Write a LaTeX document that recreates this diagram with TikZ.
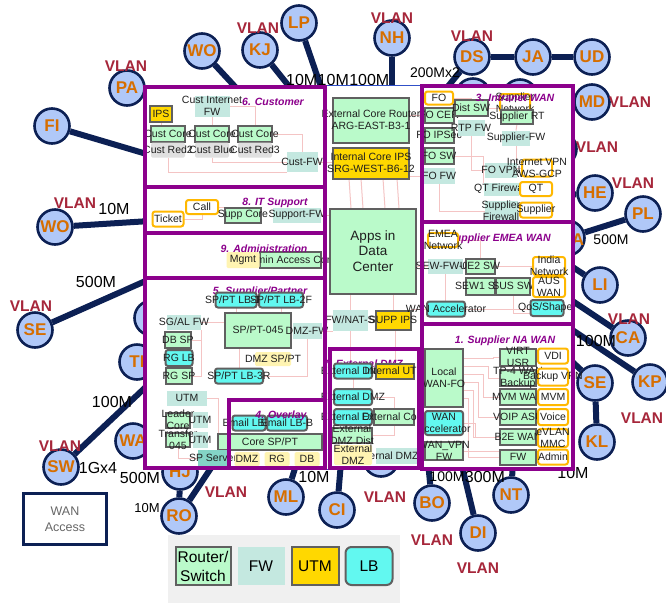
\documentclass[tikz,border=0pt]{standalone}
\usepackage{fontspec}
\setmainfont{Liberation Sans}
\usetikzlibrary{positioning}

\pgfdeclarelayer{back}
\pgfdeclarelayer{wires}
\pgfdeclarelayer{front}
\pgfsetlayers{back,wires,main,front}

\definecolor{navy}{RGB}{12,32,84}
\definecolor{sitefill}{RGB}{176,200,248}
\definecolor{siteorange}{RGB}{214,110,0}
\definecolor{vlanred}{RGB}{166,38,58}
\definecolor{zonepurple}{RGB}{140,0,140}
\definecolor{frameblue}{RGB}{48,80,200}
\definecolor{rtrfill}{RGB}{186,250,202}
\definecolor{rtrline}{RGB}{96,96,96}
\definecolor{fwfill}{RGB}{196,232,224}
\definecolor{serverteal}{RGB}{132,212,198}
\definecolor{utmfill}{RGB}{255,216,0}
\definecolor{lbfill}{RGB}{98,248,240}
\definecolor{extorange}{RGB}{255,184,0}
\definecolor{paleyellow}{RGB}{255,244,178}
\definecolor{greyfill}{RGB}{224,224,224}
\definecolor{wirepink}{RGB}{244,196,196}
\definecolor{legendgrey}{RGB}{240,240,240}

\begin{document}
\begin{tikzpicture}[x=1pt, y=-1pt,
    site/.style={circle, draw=navy, line width=2.6pt, fill=sitefill,
                 minimum size=35pt, inner sep=0pt, text=siteorange,
                 font=\fontsize{17}{17}\selectfont\bfseries},
    link/.style={draw=navy, line width=6pt},
    vlan/.style={inner sep=0pt, text=vlanred, font=\fontsize{15.5}{16}\selectfont\bfseries},
    bw/.style={inner sep=0pt, font=\fontsize{16}{16}\selectfont},
    zone/.style={draw=zonepurple, line width=3.6pt},
    zonelabel/.style={inner sep=0pt, text=zonepurple,
                      font=\fontsize{10.5}{11}\selectfont\bfseries\itshape},
    sz/.style 2 args={minimum width=#1, minimum height=#2},
    devtext/.style={inner sep=0pt, align=center, text=black!88,
                    font=\fontsize{10.5}{12}\selectfont},
    say/.style={append after command={node[devtext] at (\tikzlastnode.center) {#1}}},
    saybig/.style={append after command={node[devtext, font=\fontsize{13.5}{15.5}\selectfont]
                   at (\tikzlastnode.center) {#1}}},
    dev/.style={inner sep=0pt, outer sep=0pt},
    rtr/.style={dev, draw=rtrline, line width=2pt, fill=rtrfill},
    fw/.style={dev, fill=fwfill},
    utm/.style={dev, draw=rtrline, line width=2pt, fill=utmfill},
    lb/.style={dev, draw=rtrline, line width=2pt, fill=lbfill, rounded corners=2.5pt},
    ext/.style={dev, draw=extorange, line width=2pt, fill=white, rounded corners=2.5pt},
    pale/.style={dev, fill=paleyellow, rounded corners=1.5pt},
    greylab/.style={dev, fill=greyfill, rounded corners=1.5pt},
    wire/.style={draw=wirepink, line width=1pt}
  ]
  \useasboundingbox (0,0) rectangle (666,603);

  \begin{pgfonlayer}{back}
    % Sites
    \foreach \n/\x/\y/\lab in {woT/202/51/WO, pa/127/88/PA, fi/52/126/FI,
        kj/260/50/KJ, lp/299/23/LP, nh/392/38/NH, ds/472/57/DS, ja/533/57/JA,
        ud/592/57/UD, md/592/102/MD, he/595/193/HE, pl/643/214/PL,
        li/600/285/LI, ca/628/338/CA, kp/650/382/KP, seR/595/383/SE,
        kl/597/442/KL, nt/511/495/NT, di/478/533/DI, bo/432/503/BO,
        ci/337/510/CI, ml/286/497/ML, ro/179/516/RO, hj/180/472/HJ,
        sw/61/467/SW, wa/133/441/WA, ti/137/362/TI, seL/35/330/SE,
        woL/55/227/WO, hidA/567/238/{}, hidB/473/96/{}, hidC/520/97/{},
        hidD/559/149/{}, hidE/152/318/{}, hidF/381/459/{}}
      \node[site] (\n) at (\x,\y) {\lab};
    \node[inner sep=0pt, text=siteorange, font=\fontsize{17}{17}\selectfont\bfseries]
      (hidAtext) at (578,240) {A};

    % Link ends under the frame
    \foreach \n/\x/\y in {eWOT/240/92, eFI/150/155, eKJ/292/90, eLP/322/90,
        eNH/392/90, eDS/445/90, eHE/565/195, eLI/565/262, eCA/565/296,
        eKP/565/325, eSER/565/355, eNT/513/462, eDI/461/462, eBO/428/462,
        eCI/341/462, eML/297/462, eRO/215/462, eSW/150/383, eSEL/150/279,
        eWOL/150/221}
      \coordinate (\n) at (\x,\y);

    % Links
    \foreach \src/\dst in {woT/eWOT, fi/eFI, kj/eKJ, lp/eLP, nh/eNH, ds/eDS,
        ds/ja, ja/ud, he/eHE, pl/hidA, li/eLI, ca/eCA, kp/eKP, seR/eSER,
        kl/seR, nt/eNT, di/eDI, bo/eBO, ci/eCI, ml/eML, ro/eRO, ro/hj,
        sw/eSW, seL/eSEL, woL/eWOL}
      \draw[link] (\src) -- (\dst);

    % VLAN tags
    \foreach \x/\y [count=\i] in {126/66, 258/28, 392/18, 472/36, 630/102,
        597/147, 633/183, 629/319, 642/418, 478/568, 432/540, 385/497,
        226/492, 60/446, 31/306, 75/203}
      \node[vlan] (vl\i) at (\x,\y) {VLAN};

    % Bandwidths
    \node[bw, anchor=west] (bwA) at (286,80) {10M};
    \node[bw, right=0pt of bwA] (bwB) {10M};
    \node[bw, right=0pt of bwB] (bwC) {100M};
    \node[bw, font=\fontsize{14}{14}\selectfont] (bwD) at (435,73) {200Mx2};
    \node[bw] (bwE) at (114,209) {10M};
    \node[bw] (bwF) at (96,282) {500M};
    \node[bw] (bwG) at (112,402) {100M};
    \node[bw] (bwH) at (98,468) {1Gx4};
    \node[bw] (bwI) at (140,478) {500M};
    \node[bw, font=\fontsize{13}{13}\selectfont] (bwJ) at (147,508) {10M};
    \node[bw] (bwK) at (314,477) {10M};
    \node[bw, font=\fontsize{14}{14}\selectfont] (bwL) at (447,477) {100M};
    \node[bw, right=0pt of bwL] (bwM) {300M};
    \node[bw] (bwN) at (573,473) {10M};
    \node[bw, font=\fontsize{14}{14}\selectfont] (bwO) at (611,240) {500M};
    \node[bw] (bwP) at (596,341) {100M};

    % Frame
    \fill[white] (145,85) rectangle (573,469);
    \draw[frameblue, line width=0.8pt] (145,85) rectangle (573,469);
  \end{pgfonlayer}

  % Zone titles under devices
  \node[zonelabel] (zEMEA) at (493,239) {2. Supplier EMEA WAN};
  \node[zonelabel] (zSupPt) at (260,292) {5. Supplier/Partner};
  \node[zonelabel] (zExtDMZ) at (363,364) {7. External DMZ};

  % 6. Customer
  \node[utm, sz={22}{16}, say=IPS] (ips) at (161,114) {};
  \node[fw, sz={35}{21}, say={Cust Internet\\FW}] (custintfw) at (212,106) {};
  \node[rtr, sz={34}{16}, say={Cust Core}] (custcoreA) at (168,134) {};
  \node[rtr, sz={34}{16}, say={Cust Core}] (custcoreB) at (212,134) {};
  \node[rtr, sz={34}{16}, say={Cust Core}] (custcoreC) at (255,134) {};
  \node[greylab, sz={34}{15}, say={Cust Red2}] (custred2) at (168,150) {};
  \node[greylab, sz={34}{15}, say={Cust Blue}] (custblue) at (212,150) {};
  \node[greylab, sz={34}{15}, say={Cust Red3}] (custred3) at (255,150) {};
  \node[fw, sz={31}{20}, say=Cust-FW] (custfw) at (302,162) {};

  % 8. IT Support
  \node[ext, sz={31}{15}, say=Ticket] (ticket) at (168,219) {};
  \node[ext, sz={32}{14}, say=Call] (call) at (202,207) {};
  \node[rtr, sz={36}{15}, say={Supp Core}] (suppcore) at (243,215) {};
  \node[fw, sz={48}{15}, say=Support-FW] (supportfw) at (297,215) {};

  % 9. Administration
  \node[rtr, sz={61}{16}, say={Admin Access Core}] (admincore) at (290,260) {};
  \node[pale, sz={33}{16}, say=Mgmt] (mgmt) at (243,260) {};

  % 5. Supplier/Partner
  \node[fw, sz={34}{15}, say={SG/AL FW}] (sgalfw) at (184,322) {};
  \node[rtr, sz={26}{16}, say={DB SP}] (dbsp) at (178,340) {};
  \node[lb, sz={27}{16}, say={RG LB}] (rglb) at (179,358) {};
  \node[rtr, sz={26}{16}, say={RG SP}] (rgsp) at (179,376) {};
  \node[rtr, sz={66}{35}, say=SP/PT-045] (sppt045) at (258,330) {};
  \node[lb, sz={41}{15}, say={SP/PT LB-1F}] (lbonef) at (236,300) {};
  \node[lb, sz={44}{15}, say={SP/PT LB-2F}] (lbtwof) at (281,300) {};
  \node[fw, sz={29}{16}, say=DMZ-FW] (dmzfw) at (307,331) {};
  \node[pale, sz={36}{14}, say={DMZ SP/PT}] (dmzsppt) at (273,359) {};
  \node[lb, sz={48}{15}, say={SP/PT LB-3R}] (lbthreer) at (239,376) {};
  \node[fw, sz={40}{15}, say=UTM] (utma) at (187,398) {};
  \node[rtr, sz={24}{15}, say={Leader\\Core}] (leader) at (178,420) {};
  \node[fw, sz={15}{16}, say=UTM] (utmb) at (200,420) {};
  \node[rtr, sz={24}{14}, say={Transfer\\045}] (transfer) at (178,440) {};
  \node[fw, sz={15}{16}, say=UTM] (utmc) at (200,440) {};
  \node[rtr, sz={104}{16}, say={Core SP/PT}] (coresppt) at (270,442) {};
  \node[fw, fill=serverteal, sz={31}{16}, say={SP Server}] (spserver) at (213,458) {};
  \node[lb, sz={33}{15}, say={Email LB-A}] (emaila) at (249,423) {};
  \node[lb, sz={40}{15}, say={Email LB-B}] (emailb) at (287,423) {};
  \node[pale, sz={25}{14}, say=DMZ] (dmzs) at (247,459) {};
  \node[pale, sz={25}{14}, say=RG] (rgs) at (277,459) {};
  \node[pale, sz={25}{14}, say=DB] (dbs) at (307,459) {};

  % Data centre core
  \node[rtr, sz={76}{45}, say={External Core Router\\ARG-EAST-B3-1}] (extcore) at (371,120) {};
  \node[utm, sz={76}{31}, say={Internal Core IPS\\SRG-WEST-B6-12}] (intips) at (371,163) {};
  \node[rtr, sz={86}{85}, saybig={Apps in\\Data\\Center}] (apps) at (373,251) {};
  \node[fw, sz={35}{21}, say=FW/NAT-S] (fwnat) at (350,320) {};
  \node[utm, sz={35}{19}, say={SUPP IPS}] (suppips) at (393,320) {};

  % 7. External DMZ
  \node[lb, sz={38}{15}, say={External DMZ}] (edmza) at (353,371) {};
  \node[utm, sz={38}{15}, say={Internal UTM}] (intutm) at (395,371) {};
  \node[lb, sz={38}{16}, say={External DMZ}] (edmzb) at (353,397) {};
  \node[lb, sz={38}{16}, say={External DMZ}] (edmzc) at (353,417) {};
  \node[rtr, sz={40}{16}, say={External Core}] (extcoredmz) at (394,417) {};
  \node[fw, sz={41}{16}, say={External DMZ FW}] (edmzfw) at (396,456) {};
  \node[rtr, sz={40}{15}, say={External\\DMZ Dist}] (edmzdist) at (352,435) {};
  \node[pale, sz={38}{20}, say={External\\DMZ}] (edmzp) at (353,455) {};

  % 3. Intranet WAN
  \node[ext, sz={28}{13}, say=FO] (fo) at (439,98) {};
  \node[rtr, sz={29}{15}, say={FO CER}] (focer) at (439,115) {};
  \node[rtr, sz={29}{15}, say={FO IPSec}] (foips) at (439,135) {};
  \node[rtr, sz={29}{16}, say={FO SW}] (fosw) at (439,156) {};
  \node[fw, sz={32}{16}, say={FO FW}] (fofw) at (439,176) {};
  \node[rtr, sz={33}{16}, say={Dist SW}] (distsw) at (471,108) {};
  \node[fw, sz={27}{16}, say={RTP FW}] (rtpfw) at (471,128) {};
  \node[ext, sz={30}{18}, say={Supplier\\Network}] (supnet) at (515,103) {};
  \node[rtr, sz={32}{14}, say={Supplier RT}] (suprt) at (517,117) {};
  \node[fw, sz={28}{15}, say=Supplier-FW] (supfw) at (516,138) {};
  \node[fw, sz={32}{15}, say={FO VPN}] (fovpn) at (501,170) {};
  \node[ext, sz={30}{17}, say={Internet VPN\\AWS-GCP}] (aws) at (537,168) {};
  \node[fw, sz={35}{13}, say={QT Firewall}] (qtfw) at (501,189) {};
  \node[ext, sz={32}{14}, say=QT] (qt) at (536,189) {};
  \node[fw, sz={33}{20}, say={Supplier\\Firewall}] (supfirewall) at (501,211) {};
  \node[ext, sz={32}{15}, say=Supplier] (supplier) at (536,210) {};

  % 2. Supplier EMEA WAN
  \node[ext, sz={30}{14}, say={EMEA\\Network}] (emeanet) at (443,240) {};
  \node[fw, sz={35}{15}, say=SEW-FW-02] (sewfw) at (445,266) {};
  \node[rtr, sz={29}{15}, say={UE2 SW}] (uetwo) at (480,266) {};
  \node[rtr, sz={29}{17}, say={SEW1 SW}] (sewone) at (480,286) {};
  \node[rtr, sz={34}{17}, say={SUS SW}] (sussw) at (513,286) {};
  \node[ext, sz={32}{18}, say={India\\Network}] (india) at (549,266) {};
  \node[ext, sz={32}{20}, say={AUS\\WAN}] (auswan) at (549,287) {};
  \node[lb, sz={38}{15}, say={WAN Accelerator}] (wanacce) at (446,309) {};
  \node[lb, sz={33}{16}, say=QoS/Shaper] (qos) at (547,308) {};

  % 1. Supplier NA WAN
  \node[rtr, sz={38}{58}, say={Local\\WAN-FO}] (localwan) at (444,378) {};
  \node[lb, sz={38}{24}, say={WAN\\Accelerator}] (wanaccna) at (444,423) {};
  \node[rtr, sz={38}{18}, say={WAN\_VPN\\FW}] (wanvpn) at (444,451) {};
  \node[rtr, sz={36}{17}, say={VIRT\\USR}] (virt) at (518,357) {};
  \node[rtr, sz={36}{16}, say={TP-4 WAN\\Backup}] (tpfour) at (518,378) {};
  \node[rtr, sz={36}{16}, say={MVM WAN}] (mvmwan) at (518,397) {};
  \node[rtr, sz={36}{16}, say={VOIP ASU}] (voip) at (518,417) {};
  \node[rtr, sz={36}{16}, say={B2E WAN}] (btwoe) at (518,437) {};
  \node[rtr, sz={36}{15}, say=FW] (fwna) at (518,457) {};
  \node[ext, sz={30}{15}, say=VDI] (vdi) at (553,356) {};
  \node[ext, sz={30}{17}, say={Backup VPN}] (backupvpn) at (553,377) {};
  \node[ext, sz={30}{16}, say=MVM] (mvm) at (553,397) {};
  \node[ext, sz={30}{16}, say=Voice] (voice) at (553,417) {};
  \node[ext, sz={30}{18}, say={eVLAN\\MMC}] (evlan) at (553,438) {};
  \node[ext, sz={30}{15}, say=Admin] (adminext) at (553,457) {};

  % Zone titles
  \node[zonelabel] (zCust) at (273,102) {6. Customer};
  \node[zonelabel] (zIT) at (275,203) {8. IT Support};
  \node[zonelabel] (zAdmin) at (264,249) {9. Administration};
  \node[zonelabel] (zOverlay) at (281,416) {4. Overlay};
  \node[zonelabel] (zIntra) at (515,98) {3. Intranet WAN};
  \node[zonelabel] (zNA) at (505,341) {1. Supplier NA WAN};

  \begin{pgfonlayer}{wires}
    % customer
    \draw[wire] (ips) -- (ips |- custcoreA.north);
    \draw[wire] (custintfw) -- (custcoreB);
    \draw[wire] (custintfw.east) -| (custcoreC.north);
    \draw[wire] (custblue.south) |- (custfw.west);
    \draw[wire] (custred2.south) |- (custfw.south west);
    \draw[wire] (custcoreC.east) -| (custfw.north);
    % IT support
    \draw[wire] (ticket.east) -| (call.south);
    \draw[wire] (call.east) -- (call.east -| suppcore.west);
    % supplier/partner
    \draw[wire] (sgalfw.east) -- (sgalfw.east -| sppt045.west);
    \draw[wire] (rgsp.east) -| (sgalfw.south east);
    \draw[wire] (dbsp.east) -- (dbsp.east -| sgalfw.south east);
    \draw[wire] (lbonef.south) -- (lbonef.south |- sppt045.north);
    \draw[wire] (lbtwof.south) -- (lbtwof.south |- sppt045.north);
    \draw[wire] (lbthreer.north) -- (lbthreer.north |- sppt045.south);
    \draw[wire] (dmzfw.south) |- (lbthreer.east);
    \draw[wire] (utma.east) -| (coresppt.north west);
    \draw[wire] (transfer.south) |- (spserver.west);
    \draw[wire] (sppt045.east) -- (dmzfw.west);
    % centre
    \foreach \dx in {-22,-10,12,26}
      \draw[wire] ([xshift=\dx]intips.south) -- ([xshift=\dx]apps.north);
    \draw[wire] (fwnat.north) -- (fwnat.north |- apps.south);
    \draw[wire] (suppips.north) -- (suppips.north |- apps.south);
    \draw[wire] (fwnat.south) -- (fwnat.south |- edmza.north);
    \draw[wire] (intutm.north) -- (intutm.north |- suppips.south);
    \draw[wire] (custfw.east) -- (custfw.east -| intips.west);
    \draw[wire] (supportfw.east) -- (supportfw.east -| apps.west);
    \draw[wire] (dmzfw.east) -- (dmzfw.east -| fwnat.west);
    \draw[wire] (focer.west) -- (focer.west -| extcore.east);
    \draw[wire] (fofw.west) -- (fofw.west -| intips.east);
    \draw[wire] (sewfw.west) -- (sewfw.west -| apps.east);
    \draw[wire] (wanacce.west) -- (wanacce.west -| suppips.east);
    % external DMZ
    \draw[wire] (edmzb.east) -| (extcoredmz.north);
    \draw[wire] (edmzdist.east) -| (extcoredmz.south);
    \draw[wire] (edmza.south) -- (edmzb.north);
    % NA WAN
    \foreach \r/\dy/\dx in {virt/20/30, tpfour/12/25, mvmwan/4/20, voip/-4/15, btwoe/-12/10, fwna/-20/5}
      \draw[wire] ([yshift=\dy]localwan.east) -- ++(\dx,0) |- (\r.west);
    \draw[wire] (wanaccna.east) -- ++(12,0) |- (btwoe.west);
    \draw[wire] (wanvpn.east) -- (wanvpn.east -| fwna.west);
    % EMEA WAN
    \draw[wire] (emeanet.east) -| (uetwo.north);
    \draw[wire] (uetwo.east) -- (uetwo.east -| india.west);
    \draw[wire] (sussw.east) -- (sussw.east -| auswan.west);
    \draw[wire] (sewfw.south) -- (sewfw.south |- wanacce.north);
    \draw[wire] (sussw.south) |- ([yshift=-5]qos.west);
    \draw[wire] (wanacce.east) -- (wanacce.east -| qos.west);
    % intranet WAN
    \draw[wire] (fo.east) -| (distsw.north);
    \draw[wire] (distsw.east) -- (distsw.east -| suprt.west);
    \draw[wire] (suprt.south) -- (supfw.north);
    \draw[wire] (rtpfw.south) |- (fovpn.west);
    \draw[wire] (supfw.south) |- (aws.west);
    \draw[wire] (fofw.south) |- (supfirewall.west);
    \draw[wire] (fosw.east) -| (qtfw.north west);
  \end{pgfonlayer}

  \begin{pgfonlayer}{front}
    % Zones
    \draw[zone] (145,87) rectangle (325,187);
    \draw[zone] (145,187) rectangle (325,233);
    \draw[zone] (145,233) rectangle (325,278);
    \draw[zone] (145,278) rectangle (325,468);
    \draw[zone] (229,400) rectangle (325,468);
    \draw[zone] (330,349) rectangle (419,468);
    \draw[zone] (422,86) rectangle (573,222);
    \draw[zone] (422,222) rectangle (573,324);
    \draw[zone] (422,324) rectangle (573,469);
  \end{pgfonlayer}

  % WAN access
  \node[draw=navy, line width=3pt, sz={83}{51}, align=center, text=black!60,
        font=\fontsize{12.5}{16}\selectfont] (wanaccess) at (65,519) {WAN\\Access};

  % Legend
  \node[fill=legendgrey, sz={232}{68}, inner sep=0pt] (legend) at (284,569) {};
  \node[rtr, sz={55}{38}, align=center, font=\fontsize{15.5}{19}\selectfont]
    (keyrtr) at (203,566) {Router/\\Switch};
  \node[fw, sz={47}{38}, font=\fontsize{15.5}{19}\selectfont, right=7pt of keyrtr] (keyfw) {FW};
  \node[utm, sz={47}{38}, font=\fontsize{15.5}{19}\selectfont, right=7pt of keyfw] (keyutm) {UTM};
  \node[lb, rounded corners=6pt, sz={47}{38}, font=\fontsize{15.5}{19}\selectfont,
        right=7pt of keyutm] (keylb) {LB};
\end{tikzpicture}
\end{document}
